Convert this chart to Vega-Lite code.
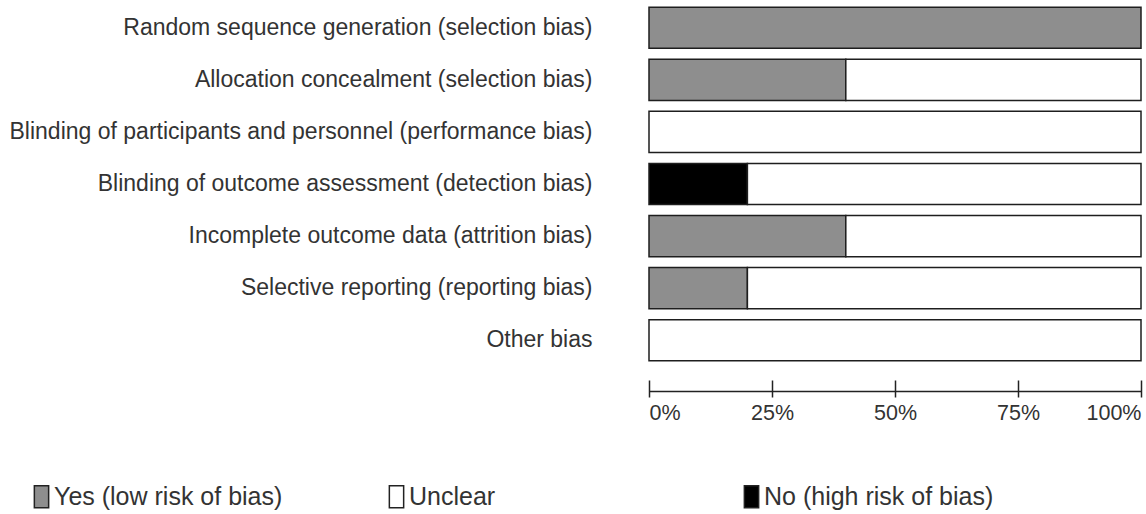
{
  "$schema": "https://vega.github.io/schema/vega-lite/v6.json",
  "width": 492,
  "height": 364,
  "autosize": {"type": "none"},
  "padding": {"left": 649, "top": 2, "right": 5, "bottom": 148},
  "config": {"view": {"stroke": null}, "font": "Liberation Sans"},
  "data": {
    "values": [
      {"domain": "Random sequence generation (selection bias)", "judgement": "Yes (low risk of bias)", "ord": 1, "pct": 100},
      {"domain": "Allocation concealment (selection bias)", "judgement": "Yes (low risk of bias)", "ord": 1, "pct": 40},
      {"domain": "Allocation concealment (selection bias)", "judgement": "Unclear", "ord": 3, "pct": 60},
      {"domain": "Blinding of participants and personnel (performance bias)", "judgement": "Unclear", "ord": 3, "pct": 100},
      {"domain": "Blinding of outcome assessment (detection bias)", "judgement": "No (high risk of bias)", "ord": 2, "pct": 20},
      {"domain": "Blinding of outcome assessment (detection bias)", "judgement": "Unclear", "ord": 3, "pct": 80},
      {"domain": "Incomplete outcome data (attrition bias)", "judgement": "Yes (low risk of bias)", "ord": 1, "pct": 40},
      {"domain": "Incomplete outcome data (attrition bias)", "judgement": "Unclear", "ord": 3, "pct": 60},
      {"domain": "Selective reporting (reporting bias)", "judgement": "Yes (low risk of bias)", "ord": 1, "pct": 20},
      {"domain": "Selective reporting (reporting bias)", "judgement": "Unclear", "ord": 3, "pct": 80},
      {"domain": "Other bias", "judgement": "Unclear", "ord": 3, "pct": 100}
    ]
  },
  "resolve": {"axis": {"x": "independent"}},
  "layer": [
    {
      "mark": {"type": "bar", "stroke": "#1e1e1e", "strokeWidth": 1.5},
      "encoding": {
        "y": {
          "field": "domain",
          "type": "nominal",
          "sort": [
            "Random sequence generation (selection bias)",
            "Allocation concealment (selection bias)",
            "Blinding of participants and personnel (performance bias)",
            "Blinding of outcome assessment (detection bias)",
            "Incomplete outcome data (attrition bias)",
            "Selective reporting (reporting bias)",
            "Other bias"
          ],
          "scale": {"paddingInner": 0.21, "paddingOuter": 0.1},
          "axis": {
            "title": null,
            "domain": false,
            "ticks": false,
            "labelPadding": 57,
            "labelFontSize": 23,
            "labelColor": "#333333",
            "labelLimit": 700
          }
        },
        "x": {
          "field": "pct",
          "type": "quantitative",
          "stack": "zero",
          "scale": {"domain": [0, 100]},
          "axis": {
            "title": null,
            "orient": "bottom",
            "values": [0, 25, 50, 75, 100],
            "labelExpr": "datum.value + '%'",
            "grid": false,
            "offset": 25,
            "ticks": false,
            "domainWidth": 1.5,
            "domainColor": "#222222",
            "labelFontSize": 21.5,
            "labelColor": "#333333",
            "labelPadding": 11
          }
        },
        "color": {
          "field": "judgement",
          "type": "nominal",
          "scale": {
            "domain": ["Yes (low risk of bias)", "Unclear", "No (high risk of bias)"],
            "range": ["#8e8e8e", "#ffffff", "#000000"]
          },
          "legend": {
            "title": null,
            "orient": "none",
            "legendX": -620,
            "legendY": 482,
            "direction": "horizontal",
            "columns": 3,
            "gridAlign": "all",
            "columnPadding": 100,
            "symbolType": "M-0.65,-1H0.65V1H-0.65Z",
            "symbolSize": 484,
            "symbolStrokeColor": "#222222",
            "symbolStrokeWidth": 1.5,
            "symbolOpacity": 1,
            "labelFontSize": 25,
            "labelColor": "#333333",
            "labelOffset": 0,
            "labelLimit": 400
          }
        },
        "order": {"field": "ord"}
      }
    },
    {
      "mark": {"type": "bar", "opacity": 0},
      "encoding": {
        "x": {
          "field": "pct",
          "type": "quantitative",
          "stack": "zero",
          "axis": {
            "title": null,
            "orient": "bottom",
            "values": [0, 25, 50, 75, 100],
            "grid": false,
            "offset": 14,
            "domain": false,
            "labels": false,
            "ticks": true,
            "tickSize": 17,
            "tickWidth": 1.5,
            "tickColor": "#222222"
          }
        }
      }
    }
  ]
}
